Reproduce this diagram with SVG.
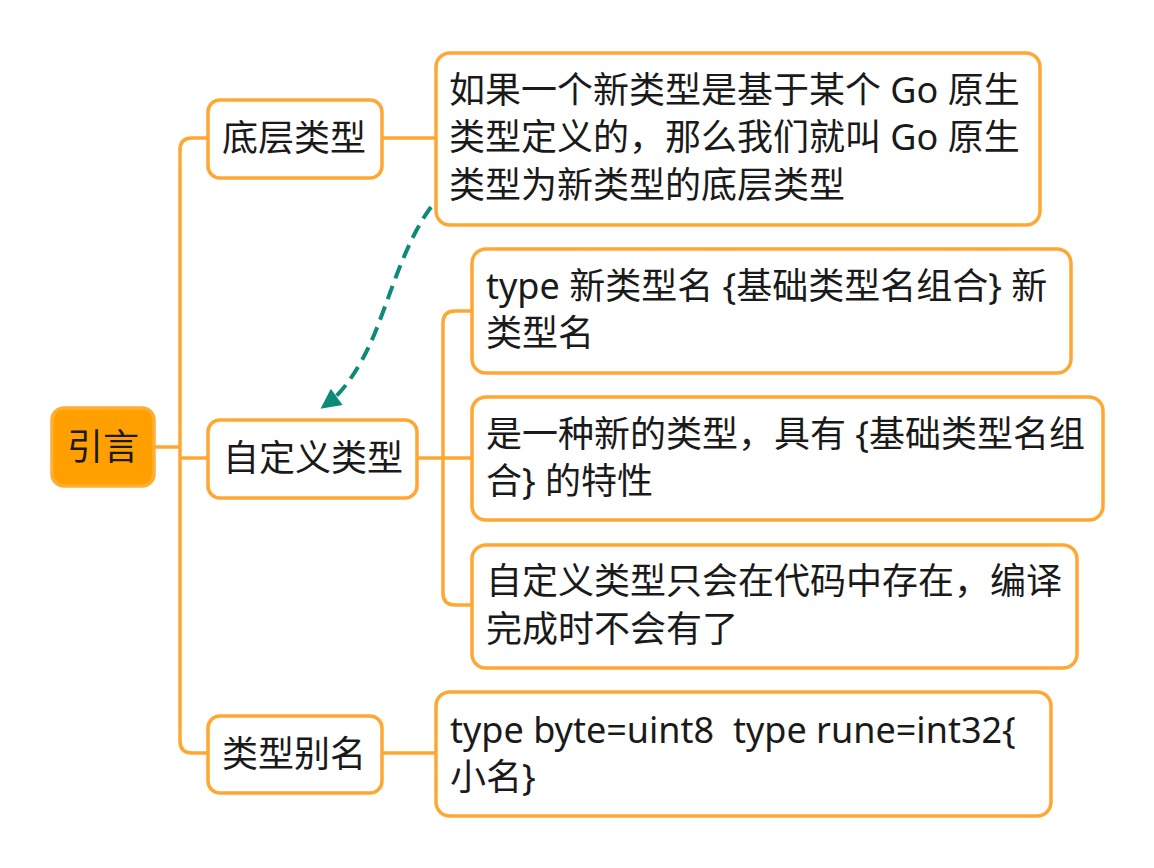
<svg xmlns="http://www.w3.org/2000/svg" width="1154" height="868" viewBox="0 0 1154 868">
<defs>
<style>
.box{fill:#ffffff;stroke:#FFA733;stroke-width:3.5}
.root{fill:#FFA000;stroke:#FFAD33;stroke-width:3.5}
.t{font-family:"Noto Sans","Noto Sans CJK SC",sans-serif;font-size:36px;fill:#1a1a1a;white-space:pre}
.rt{font-family:"Noto Sans","Noto Sans CJK SC",sans-serif;font-size:36px;fill:#1a1a1a}
.ln{fill:none;stroke:#FFA733;stroke-width:3.5}
.rel{fill:none;stroke:#0E8A78;stroke-width:4;stroke-dasharray:14 8}
</style>
<marker id="ah" viewBox="0 0 10 10" refX="6" refY="5" markerWidth="22" markerHeight="20" orient="auto" markerUnits="userSpaceOnUse">
<path d="M0,0 L10,5 L0,10 z" fill="#0E8A78"/>
</marker>
</defs>
<rect width="1154" height="868" fill="#ffffff"/>
<g id="connectors">
<path class="ln" d="M155,447 H180"/>
<path class="ln" d="M207,138 H192 Q180,138 180,150 V741 Q180,753 192,753 H207"/>
<path class="ln" d="M180,458 H207"/>
<path class="ln" d="M383,138 H435"/>
<path class="ln" d="M418,458 H471"/>
<path class="ln" d="M471,311 H455 Q443,311 443,323 V593 Q443,605 455,605 H471"/>
<path class="ln" d="M383,753 H435"/>
<path class="rel" d="M431,207 C398,252 385,320 362,360 C350,382 338,396 327,404" marker-end="url(#ah)"/>
</g>
<g id="root">
<rect class="root" x="52" y="408" width="102" height="78" rx="12"/>
<text class="rt" x="103" y="460" text-anchor="middle">引言</text>
</g>
<g id="n-diceng">
<rect class="box" x="208" y="100" width="174" height="78" rx="12"/>
<text class="t" x="294" y="151" text-anchor="middle">底层类型</text>
</g>
<g id="n-zidingyi">
<rect class="box" x="208" y="420" width="209" height="78" rx="12"/>
<text class="t" x="313" y="471" text-anchor="middle">自定义类型</text>
</g>
<g id="n-bieming">
<rect class="box" x="208" y="716" width="174" height="77" rx="12"/>
<text class="t" x="294" y="767" text-anchor="middle">类型别名</text>
</g>
<g id="n-diceng-desc">
<rect class="box" x="436" y="53" width="604" height="172" rx="14"/>
<text class="t" x="449" y="103">如果一个新类型是基于某个 Go 原生</text>
<text class="t" x="449" y="150">类型定义的，那么我们就叫 Go 原生</text>
<text class="t" x="449" y="198">类型为新类型的底层类型</text>
</g>
<g id="n-type-def">
<rect class="box" x="472" y="249" width="599" height="124" rx="14"/>
<text class="t" x="486" y="299">type 新类型名 {基础类型名组合} 新</text>
<text class="t" x="486" y="346">类型名</text>
</g>
<g id="n-new-type">
<rect class="box" x="472" y="397" width="631" height="123" rx="14"/>
<text class="t" x="486" y="447">是一种新的类型，具有 {基础类型名组</text>
<text class="t" x="486" y="494">合} 的特性</text>
</g>
<g id="n-code-only">
<rect class="box" x="472" y="545" width="605" height="123" rx="14"/>
<text class="t" x="486" y="594">自定义类型只会在代码中存在，编译</text>
<text class="t" x="486" y="642">完成时不会有了</text>
</g>
<g id="n-alias-desc">
<rect class="box" x="436" y="692" width="615" height="124" rx="14"/>
<text class="t" x="450" y="743" xml:space="preserve">type byte=uint8  type rune=int32{</text>
<text class="t" x="450" y="790">小名}</text>
</g>
</svg>
